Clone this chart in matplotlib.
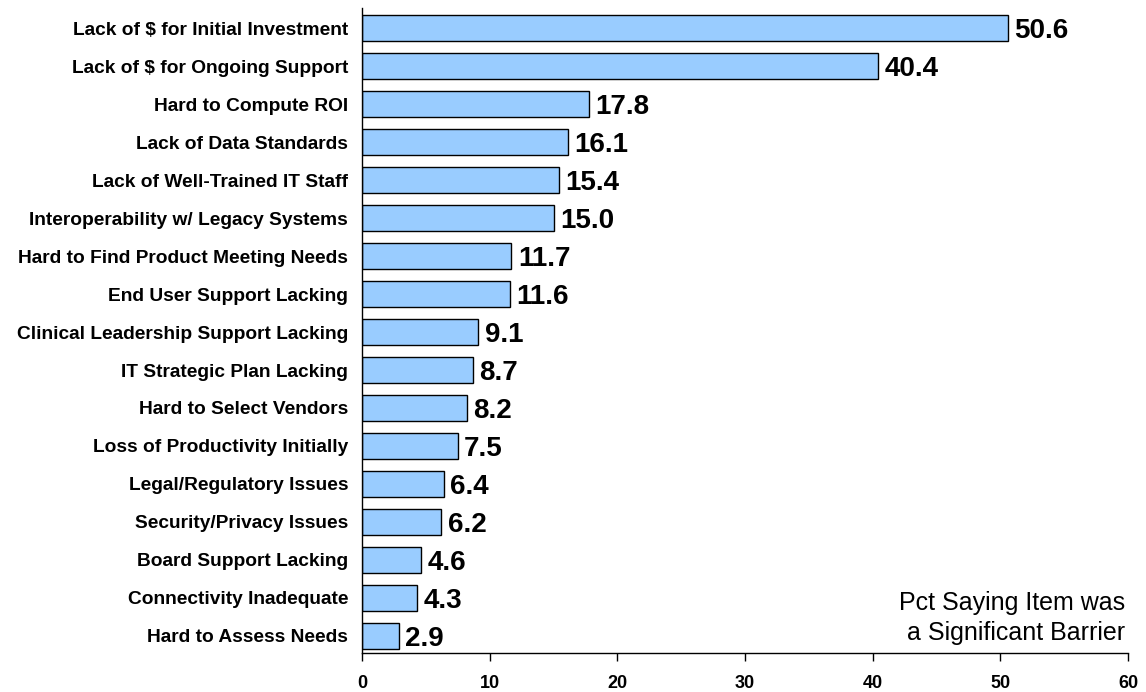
import matplotlib
matplotlib.use("Agg")
import matplotlib.pyplot as plt

categories = [
    "Lack of $ for Initial Investment",
    "Lack of $ for Ongoing Support",
    "Hard to Compute ROI",
    "Lack of Data Standards",
    "Lack of Well-Trained IT Staff",
    "Interoperability w/ Legacy Systems",
    "Hard to Find Product Meeting Needs",
    "End User Support Lacking",
    "Clinical Leadership Support Lacking",
    "IT Strategic Plan Lacking",
    "Hard to Select Vendors",
    "Loss of Productivity Initially",
    "Legal/Regulatory Issues",
    "Security/Privacy Issues",
    "Board Support Lacking",
    "Connectivity Inadequate",
    "Hard to Assess Needs",
]
values = [50.6, 40.4, 17.8, 16.1, 15.4, 15.0, 11.7, 11.6, 9.1, 8.7, 8.2, 7.5, 6.4, 6.2, 4.6, 4.3, 2.9]
xticks = [0, 10, 20, 30, 40, 50, 60]

plt.rcParams["font.family"] = ["Liberation Sans", "DejaVu Sans"]

fig = plt.figure(figsize=(11.46, 6.92), dpi=100)
ax = fig.add_axes([0.3159, 0.0564, 0.6684, 0.932])

pos = list(range(len(categories)))
ax.barh(pos, values, height=0.68, color="#99CCFF", edgecolor="black", linewidth=1.0)

for p, v in zip(pos, values):
    ax.text(v + 0.5, p + 0.08, f"{v:.1f}", va="center", ha="left",
            fontsize=20, fontweight="bold")

ax.set_xlim(0, 60)
ax.set_ylim(16.45, -0.53)
ax.set_xticks(xticks)
ax.set_xticklabels([str(t) for t in xticks], fontsize=13, fontweight="bold")
ax.set_yticks(pos)
ax.set_yticklabels(categories, fontsize=13.8, fontweight="bold")
ax.tick_params(axis="y", length=0, pad=10)
ax.tick_params(axis="x", direction="out", length=6, width=1, pad=10)

for s in ["top", "right"]:
    ax.spines[s].set_visible(False)
ax.spines["left"].set_linewidth(1)
ax.spines["bottom"].set_linewidth(1)

ax.text(0.996, 0.012, "Pct Saying Item was\na Significant Barrier", transform=ax.transAxes,
        ha="right", va="bottom", fontsize=18, linespacing=1.35)

fig.savefig("out.png", dpi=100)
